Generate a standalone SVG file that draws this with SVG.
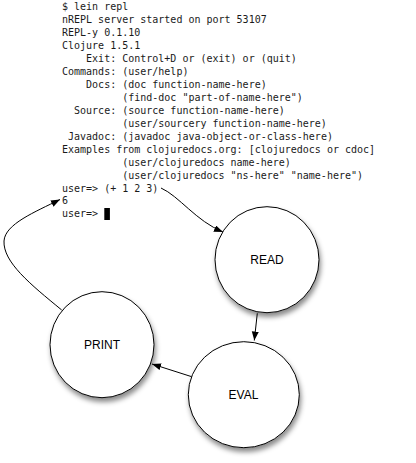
<svg xmlns="http://www.w3.org/2000/svg" width="416" height="463" viewBox="0 0 416 463">
  <style>
    .term { font-family: "DejaVu Sans Mono", "Liberation Mono", monospace; font-size: 10px; fill: #1a1a1a; }
    .node { fill: #ffffff; stroke: #000000; stroke-width: 1; filter: url(#shadow); }
    .label { font-family: "Liberation Sans", Arial, sans-serif; font-size: 12px; fill: #000000; text-anchor: middle; }
    .conn { fill: none; stroke: #000000; stroke-width: 1; marker-end: url(#arrow); }
  </style>
  <defs>
    <filter id="shadow" x="-20%" y="-20%" width="150%" height="150%">
      <feDropShadow dx="1.5" dy="4" stdDeviation="2.5" flood-color="#000000" flood-opacity="0.45"/>
    </filter>
    <marker id="arrow" markerUnits="userSpaceOnUse" markerWidth="10" markerHeight="8" refX="9" refY="3.5" orient="auto">
      <path d="M0,0 L9,3.5 L0,7 z" fill="#000000"/>
    </marker>
  </defs>
  <rect width="416" height="463" fill="#ffffff"/>

  <g id="terminal" class="term">
    <text x="62" y="10.2">$ lein repl</text>
    <text x="62" y="23.15">nREPL server started on port 53107</text>
    <text x="62" y="36.1">REPL-y 0.1.10</text>
    <text x="62" y="49.05">Clojure 1.5.1</text>
    <text x="86.08" y="62">Exit: Control+D or (exit) or (quit)</text>
    <text x="62" y="74.95">Commands: (user/help)</text>
    <text x="86.08" y="87.9">Docs: (doc function-name-here)</text>
    <text x="122.2" y="100.85">(find-doc "part-of-name-here")</text>
    <text x="74.04" y="113.8">Source: (source function-name-here)</text>
    <text x="122.2" y="126.75">(user/sourcery function-name-here)</text>
    <text x="68.02" y="139.7">Javadoc: (javadoc java-object-or-class-here)</text>
    <text x="62" y="152.65">Examples from clojuredocs.org: [clojuredocs or cdoc]</text>
    <text x="122.2" y="165.6">(user/clojuredocs name-here)</text>
    <text x="122.2" y="178.55">(user/clojuredocs "ns-here" "name-here")</text>
    <text x="62" y="191.5">user=&gt; (+ 1 2 3)</text>
    <text x="62" y="204.45">6</text>
    <text x="62" y="217.4">user=&gt;</text>
    <rect x="104.3" y="208" width="5.6" height="12" fill="#000000"/>
  </g>

  <g id="connectors">
    <path class="conn" d="M161,188 C179,196 196,221 223,232"/>
    <path class="conn" d="M257.3,313.3 L254.3,340.5"/>
    <path class="conn" d="M191.7,376.7 L152,364"/>
    <path class="conn" d="M61.7,310 C30,284 3,262 4,241 C5,224 35,212 60,199.5"/>
  </g>

  <g id="node-read">
    <ellipse class="node" cx="267" cy="259.7" rx="52" ry="53"/>
    <text class="label" x="267" y="264">READ</text>
  </g>
  <g id="node-eval">
    <ellipse class="node" cx="243.8" cy="394.7" rx="55.5" ry="53"/>
    <text class="label" x="243.5" y="399">EVAL</text>
  </g>
  <g id="node-print">
    <ellipse class="node" cx="102" cy="344.7" rx="52" ry="53"/>
    <text class="label" x="102" y="349">PRINT</text>
  </g>
</svg>
